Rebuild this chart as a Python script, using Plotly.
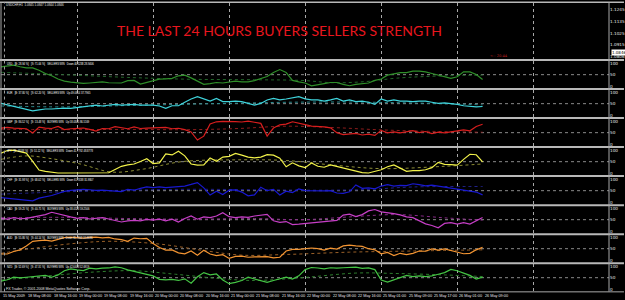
import plotly.graph_objects as go

# ---------------- data ----------------
CURRENCIES = ["USD", "EUR", "GBP", "JPY", "CHF", "CAD", "AUD", "NZD"]

# hourly bar index (every 2 bars) shared by all indicator lines
BARS = list(range(0, 153, 2))

DATE_LABELS = ["15 May 2009", "18 May 08:00", "18 May 16:00", "19 May 00:00", "19 May 08:00",
               "19 May 16:00", "20 May 00:00", "20 May 08:00", "20 May 16:00", "21 May 00:00",
               "21 May 08:00", "21 May 16:00", "22 May 00:00", "22 May 08:00", "22 May 16:00",
               "25 May 01:00", "25 May 09:00", "25 May 17:00", "26 May 01:00", "26 May 09:00"]
DATE_BARS = [0, 8, 16, 24, 32, 40, 48, 56, 64, 72, 80, 88, 96, 104, 112, 120, 128, 136, 144, 152]
GRID_BARS = [24, 48, 72, 96, 120, 144, 168]

PRICE_TICKS = [1.0806, 1.0915, 1.1025, 1.1135, 1.1245]
PRICE_LAST = 1.0846

PANEL_TEXT = [
    "USD   [B: 28.94 %]   [S: 71.06 %]   SELLERS WIN   Down 40.5238 28.9406",
    "EUR   [B: 37.80 %]   [S: 62.20 %]   SELLERS WIN   Up 49.0614 37.7965",
    "GBP   [B: 86.52 %]   [S: 13.48 %]   BUYERS WIN   Up 58.0345 86.5169",
    "JPY   [B: 48.88 %]   [S: 51.12 %]   SELLERS WIN   Down 41.7792 48.8778",
    "CHF   [B: 31.98 %]   [S: 68.02 %]   SELLERS WIN   Down 61.7438 31.9807",
    "CAD   [B: 59.25 %]   [S: 40.75 %]   BUYERS WIN   Up 38.0523 59.2506",
    "AUD   [B: 55.86 %]   [S: 44.14 %]   BUYERS WIN   Down 65.7843 55.8636",
    "NZD   [B: 52.69 %]   [S: 47.31 %]   BUYERS WIN   Up 42.6408 52.6919",
]

USD_VALS = [84, 88, 91, 84, 79, 79, 69, 55, 45, 31, 22, 18, 15, 12, 14, 18, 19, 15, 16, 14,
            24, 25, 9, 16, 25, 31, 32, 34, 45, 48, 36, 22, 8, 11, 16, 14, 19, 22, 19,
            19, 24, 34, 42, 59, 72, 59, 25, 19, 14, 2, 5, 11, 16, 16, 8, 2, 8, 11, 14,
            25, 31, 48, 55, 59, 59, 65, 65, 62, 55, 48, 41, 34, 41, 62, 62, 51, 28.9]
EUR_VALS = [51, 44, 37, 30, 23, 19, 23, 27, 27, 30, 31, 30, 33, 36, 39, 44, 40, 44, 47, 44,
            47, 47, 44, 44, 44, 40, 30, 41, 41, 56, 70, 80, 70, 61, 73, 59, 59, 61, 59,
            50, 44, 51, 66, 73, 66, 70, 76, 80, 71, 66, 66, 61, 66, 73, 61, 66, 59, 61, 56,
            47, 70, 61, 66, 61, 61, 59, 61, 61, 56, 51, 53, 51, 47, 41, 39, 36, 37.8]
GBP_VALS = [70, 73, 70, 67, 67, 49, 74, 70, 68, 77, 63, 67, 70, 70, 64, 57, 68, 67, 76, 70,
            67, 75, 68, 70, 70, 70, 73, 67, 69, 63, 53, 18, 35, 88, 97, 99, 100, 98, 96,
            100, 95, 90, 35, 70, 84, 87, 97, 92, 85, 78, 77, 75, 71, 50, 42, 46, 47, 40, 44,
            38, 60, 49, 53, 49, 53, 59, 50, 55, 46, 52, 49, 55, 58, 62, 58, 77, 86.5]
JPY_VALS = [87, 98, 100, 94, 87, 51, 14, 8, 3, 1, 1, 1, 1, 2, 3, 2, 1, 2, 16, 30,
            36, 40, 51, 63, 42, 45, 84, 79, 95, 75, 40, 35, 36, 66, 52, 70, 73, 86, 78,
            70, 66, 70, 80, 78, 65, 28, 45, 32, 24, 44, 30, 26, 36, 30, 23, 16, 10, 3, 1,
            8, 15, 28, 36, 22, 8, 11, 11, 15, 24, 47, 38, 37, 35, 60, 82, 80, 48.9]
CHF_VALS = [20, 17, 13, 13, 9, 6, 18, 23, 29, 38, 47, 51, 55, 56, 54, 51, 52, 51, 49, 46,
            56, 52, 60, 66, 63, 66, 63, 65, 69, 70, 77, 85, 62, 31, 48, 33, 52, 53, 44,
            28, 32, 65, 50, 56, 31, 48, 42, 58, 50, 49, 47, 49, 50, 40, 38, 45, 75, 60, 62,
            58, 70, 76, 70, 73, 72, 80, 76, 71, 74, 70, 67, 61, 57, 53, 50, 44, 32]
CAD_VALS = [56, 52, 59, 54, 56, 62, 65, 72, 82, 75, 66, 62, 56, 59, 53, 56, 59, 53, 48, 40,
            45, 47, 45, 51, 48, 52, 45, 52, 40, 55, 66, 52, 62, 59, 66, 80, 63, 59, 62,
            60, 66, 71, 73, 45, 38, 42, 29, 31, 34, 38, 38, 44, 45, 47, 70, 74, 63, 72, 88,
            94, 84, 81, 76, 71, 62, 59, 46, 32, 25, 15, 34, 37, 31, 37, 31, 45, 59.3]
AUD_VALS = [27, 27, 38, 45, 62, 82, 85, 87, 83, 90, 98, 100, 99, 96, 99, 100, 97, 99, 92, 89,
            82, 96, 93, 95, 72, 55, 44, 45, 32, 28, 40, 22, 43, 27, 20, 24, 8, 17, 18,
            13, 15, 14, 16, 10, 13, 40, 47, 47, 49, 53, 50, 44, 52, 48, 62, 65, 62, 60, 50,
            45, 28, 34, 20, 30, 24, 30, 40, 39, 49, 44, 49, 43, 35, 28, 30, 45, 55.9]
NZD_VALS = [35, 41, 52, 49, 52, 55, 60, 60, 52, 62, 80, 88, 84, 81, 91, 88, 91, 92, 97, 93,
            84, 77, 70, 64, 58, 43, 41, 43, 38, 45, 26, 54, 72, 62, 66, 40, 24, 30, 38,
            52, 45, 40, 30, 38, 45, 52, 44, 58, 85, 94, 92, 88, 93, 91, 93, 94, 96, 90, 92,
            85, 40, 31, 41, 52, 60, 55, 58, 55, 58, 65, 72, 86, 80, 70, 60, 44, 52.7]

# slow (dotted) signal lines
USD_MA_BARS = [0, 20, 40, 60, 80, 95, 105, 115, 125, 140, 152]
USD_MA_VALS = [60, 50, 38, 30, 28, 25, 15, 20, 35, 45, 48]
EUR_MA_BARS = [0, 20, 40, 60, 75, 90, 110, 130, 152]
EUR_MA_VALS = [40, 36, 42, 48, 52, 56, 57, 53, 45]
GBP_MA_BARS = [0, 20, 40, 60, 75, 90, 105, 120, 135, 152]
GBP_MA_VALS = [65, 63, 64, 63, 68, 78, 72, 62, 56, 52]
JPY_MA_BARS = [0, 8, 15, 25, 35, 45, 57, 75, 90, 105, 120, 140, 152]
JPY_MA_VALS = [60, 75, 65, 40, 5, 18, 50, 58, 55, 35, 20, 30, 40]
CHF_MA_BARS = [0, 20, 40, 60, 80, 100, 115, 130, 152]
CHF_MA_VALS = [35, 45, 52, 56, 54, 52, 55, 66, 68]
CAD_MA_BARS = [0, 20, 40, 60, 80, 95, 110, 125, 140, 152]
CAD_MA_VALS = [58, 60, 55, 52, 55, 50, 62, 72, 58, 48]
AUD_MA_BARS = [0, 12, 25, 35, 50, 65, 76, 90, 110, 130, 152]
AUD_MA_VALS = [30, 55, 75, 82, 70, 40, 22, 25, 35, 40, 45]
NZD_MA_BARS = [0, 15, 30, 42, 55, 70, 80, 95, 112, 125, 140, 152]
NZD_MA_VALS = [40, 58, 75, 80, 65, 45, 38, 50, 70, 68, 62, 55]

SERIES = {
    "USD": (USD_VALS, USD_MA_BARS, USD_MA_VALS),
    "EUR": (EUR_VALS, EUR_MA_BARS, EUR_MA_VALS),
    "GBP": (GBP_VALS, GBP_MA_BARS, GBP_MA_VALS),
    "JPY": (JPY_VALS, JPY_MA_BARS, JPY_MA_VALS),
    "CHF": (CHF_VALS, CHF_MA_BARS, CHF_MA_VALS),
    "CAD": (CAD_VALS, CAD_MA_BARS, CAD_MA_VALS),
    "AUD": (AUD_VALS, AUD_MA_BARS, AUD_MA_VALS),
    "NZD": (NZD_VALS, NZD_MA_BARS, NZD_MA_VALS),
}

# ---------------- styles ----------------
LINE_COLORS = {"USD": "#2f8f2a", "EUR": "#3fd4dc", "GBP": "#d81e1e", "JPY": "#f2f24a",
               "CHF": "#1818d0", "CAD": "#c63ec6", "AUD": "#f29432", "NZD": "#44c444"}
MA_COLORS = {"USD": "#22662a", "EUR": "#2a8c90", "GBP": "#8c1c1c", "JPY": "#8e8e36",
             "CHF": "#22228a", "CAD": "#862a86", "AUD": "#9a6028", "NZD": "#2e7e2e"}

W, H = 625, 300
LEFT, RIGHT = 1, 610


def py(y):
    return 1 - y / H


def px(x):
    return (x - LEFT) / (RIGHT - LEFT)


PANEL_T = [59.5 + 29.2 * k for k in range(8)]
YMIN, YMAX = -8.2, 108.6
X_RANGE = [0, 191.9]

fig = go.Figure()

axis_font = dict(family="DejaVu Sans", size=4.2, color="#e6e6e6")
grid_common = dict(showgrid=True, gridcolor="#a8a8a8", griddash="dot", gridwidth=1,
                   tickvals=GRID_BARS, showticklabels=False, zeroline=False, showline=False,
                   ticks="")

layout = dict(
    width=W, height=H,
    margin=dict(l=LEFT, r=W - RIGHT, t=0, b=0),
    paper_bgcolor="#000000", plot_bgcolor="#000000",
    showlegend=False,
)

layout["xaxis"] = dict(domain=[0, 1], anchor="y", range=X_RANGE, **grid_common)
layout["yaxis"] = dict(domain=[py(58.5), py(2)], anchor="x", range=[1.0779, 1.13116], side="right",
                       tickvals=PRICE_TICKS, ticktext=[f"{v:.4f}" for v in PRICE_TICKS],
                       tickfont=axis_font, showgrid=False, zeroline=False, showline=False, ticks="")

shapes = []
annotations = []

for k, cur in enumerate(CURRENCIES):
    n = k + 2
    T = PANEL_T[k]
    vals, ma_bars, ma_vals = SERIES[cur]
    layout[f"xaxis{n}"] = dict(domain=[0, 1], anchor=f"y{n}", matches="x", **grid_common)
    layout[f"yaxis{n}"] = dict(domain=[py(T + 28.2), py(T + 1)], anchor=f"x{n}", range=[YMIN, YMAX],
                               side="right", tickvals=[0, 50, 100], ticktext=["0", "50", "100"],
                               tickfont=axis_font, showgrid=False, zeroline=False, showline=False,
                               ticks="")
    fig.add_trace(go.Scatter(x=ma_bars, y=ma_vals, xaxis=f"x{n}", yaxis=f"y{n}", mode="lines",
                             line=dict(color=MA_COLORS[cur], width=1, dash="dot", shape="spline"),
                             hoverinfo="skip"))
    fig.add_trace(go.Scatter(x=BARS, y=vals, xaxis=f"x{n}", yaxis=f"y{n}", mode="lines",
                             line=dict(color=LINE_COLORS[cur], width=1.2), name=cur))
    shapes.append(dict(type="line", xref=f"x{n} domain", x0=0, x1=1, yref=f"y{n}", y0=50, y1=50,
                       line=dict(color="#8a8a8a", width=1, dash="dot"), layer="below"))
    shapes.append(dict(type="line", xref="paper", x0=px(0), x1=px(W), yref="paper", y0=py(T), y1=py(T),
                       line=dict(color="#b8b8b8", width=2)))
    annotations.append(dict(text=PANEL_TEXT[k], xref="paper", yref="paper", x=px(5), y=py(T + 3.8),
                            xanchor="left", yanchor="middle", showarrow=False,
                            font=dict(family="Liberation Sans", size=2.6, color="#ffffff")))

# frame
shapes.append(dict(type="line", xref="paper", yref="paper", x0=px(0), x1=px(W), y0=py(1.3), y1=py(1.3),
                   line=dict(color="#b8b8b8", width=1.5)))
shapes.append(dict(type="line", xref="paper", yref="paper", x0=px(1), x1=px(1), y0=py(292.5), y1=py(1.3),
                   line=dict(color="#a8a8a8", width=1)))
shapes.append(dict(type="line", xref="paper", yref="paper", x0=px(4.5), x1=px(4.5), y0=py(292.5),
                   y1=py(1.3), line=dict(color="#a0a0a0", width=1, dash="dot")))
shapes.append(dict(type="line", xref="paper", yref="paper", x0=1, x1=1, y0=py(292.5), y1=py(1.3),
                   line=dict(color="#a8a8a8", width=1)))
shapes.append(dict(type="line", xref="paper", yref="paper", x0=px(0), x1=px(W), y0=py(292.8), y1=py(292.8),
                   line=dict(color="#a8a8a8", width=1)))

# date labels
for b, lab in zip(DATE_BARS, DATE_LABELS):
    annotations.append(dict(text=lab, xref="x9", yref="paper", x=b, y=py(296.5), xanchor="left",
                            yanchor="middle", showarrow=False,
                            font=dict(family="Liberation Sans", size=3.8, color="#e6e6e6")))

# title and misc texts
annotations.append(dict(text="THE LAST 24 HOURS BUYERS SELLERS STRENGTH", xref="paper", yref="paper",
                        x=px(280), y=py(29.5), xanchor="center", yanchor="middle", showarrow=False,
                        font=dict(family="Lato", size=14, color="#e8161e")))
annotations.append(dict(text="USDCHF,H1  1.0845 1.0847 1.0844 1.0846", xref="paper", yref="paper",
                        x=px(4), y=py(4.3), xanchor="left", yanchor="middle", showarrow=False,
                        font=dict(family="Liberation Sans", size=3, color="#e6e6e6")))
annotations.append(dict(text=f"{PRICE_LAST:.4f}", xref="paper", yref="y", x=1.003, y=PRICE_LAST,
                        xanchor="left", yanchor="middle", showarrow=False, bgcolor="#ffffff",
                        borderpad=0, font=dict(family="DejaVu Sans", size=4, color="#000000")))
annotations.append(dict(text="&lt;-- 20:44", xref="paper", yref="paper", x=px(489), y=py(55.3),
                        xanchor="left", yanchor="middle", showarrow=False,
                        font=dict(family="DejaVu Sans", size=3.6, color="#c02020")))
annotations.append(dict(text="FX Trader, \u00a9 2001-2008 MetaQuotes Software Corp.", xref="paper",
                        yref="paper", x=px(4), y=py(290.3), xanchor="left", yanchor="middle",
                        showarrow=False, font=dict(family="Liberation Sans", size=3.6, color="#e6e6e6")))

layout["shapes"] = shapes
layout["annotations"] = annotations
fig.update_layout(**layout)

fig.write_html("out.html")
